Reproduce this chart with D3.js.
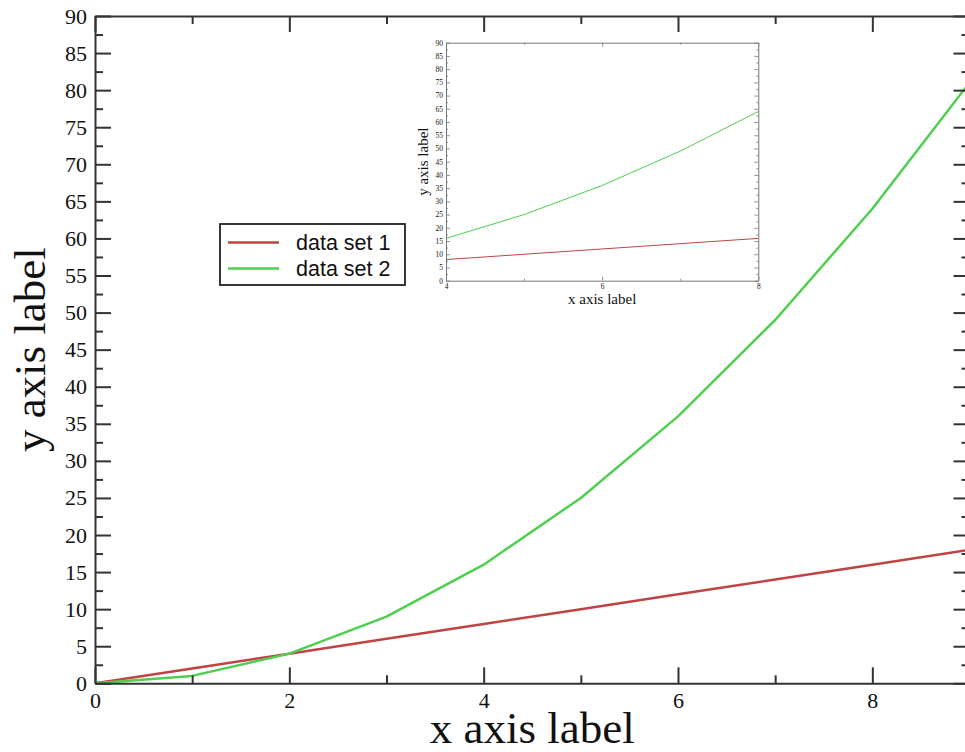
<!DOCTYPE html>
<html>
<head>
<meta charset="utf-8">
<script src="https://cdn.jsdelivr.net/npm/d3@7"></script>
<style>
  html, body { margin: 0; padding: 0; background: #fff; overflow: hidden; }
  svg { display: block; }
</style>
</head>
<body>
<svg id="chart" width="965" height="752"></svg>
<script>
// ---- data ----
const xValues = [0, 1, 2, 3, 4, 5, 6, 7, 8, 9];
const dataSet1 = [0, 2, 4, 6, 8, 10, 12, 14, 16, 18];
const dataSet2 = [0, 1, 4, 9, 16, 25, 36, 49, 64, 81];
const seriesNames = ["data set 1", "data set 2"];
const mainXTicks = [0, 2, 4, 6, 8];
const mainXMinor = [1, 3, 5, 7, 9];
const yTicks = [0, 5, 10, 15, 20, 25, 30, 35, 40, 45, 50, 55, 60, 65, 70, 75, 80, 85, 90];
const yMinor = [2.5, 7.5, 12.5, 17.5, 22.5, 27.5, 32.5, 37.5, 42.5, 47.5, 52.5, 57.5, 62.5, 67.5, 72.5, 77.5, 82.5, 87.5];
const insetXTicks = [4, 6, 8];
const insetXMinor = [5, 7];
const axisTitleX = "x axis label";
const axisTitleY = "y axis label";

const colors = ["#c04444", "#4fcf4f"];
const series = [dataSet1, dataSet2].map((vals, i) => ({
  name: seriesNames[i],
  color: colors[i],
  points: xValues.map((x, j) => ({ x: x, y: vals[j] }))
}));

const svg = d3.select("#chart");
const serif = "'Liberation Serif', 'Times New Roman', serif";
const sans = "'Liberation Sans', Arial, sans-serif";

function drawPanel(g, o) {
  const x = d3.scaleLinear().domain(o.xDomain).range([o.left, o.right]);
  const y = d3.scaleLinear().domain([0, 90]).range([o.bottom, o.top]);

  const clipId = "clip-" + o.id;
  svg.append("clipPath").attr("id", clipId).append("rect")
    .attr("x", o.left).attr("y", o.top)
    .attr("width", o.right - o.left).attr("height", o.bottom - o.top);

  // series lines
  const line = d3.line().x(d => x(d.x)).y(d => y(d.y));
  g.append("g").attr("clip-path", `url(#${clipId})`)
    .selectAll("path").data(series).join("path")
    .attr("d", d => line(d.points))
    .attr("fill", "none")
    .attr("stroke", d => d.color)
    .attr("stroke-width", o.lineWidth)
    .attr("stroke-linejoin", "round");

  function styleAxis(sel, showDomain) {
    sel.selectAll(".tick line").attr("stroke", o.axisColor).attr("stroke-width", o.tickWidth);
    if (showDomain) sel.select(".domain").attr("stroke", o.axisColor).attr("stroke-width", o.axisWidth);
    else sel.select(".domain").remove();
    sel.selectAll("text").attr("font-family", serif).attr("font-size", o.tickFont).attr("fill", "#111");
  }

  // bottom
  const bx = g.append("g").attr("transform", `translate(0,${o.bottom})`)
    .call(d3.axisBottom(x).tickValues(o.xTicks).tickFormat(d3.format("d"))
      .tickSizeInner(-o.major).tickSizeOuter(0).tickPadding(o.xPad));
  styleAxis(bx, true);
  const bxm = g.append("g").attr("transform", `translate(0,${o.bottom})`)
    .call(d3.axisBottom(x).tickValues(o.xMinor).tickFormat("").tickSizeInner(-o.minor).tickSizeOuter(0));
  styleAxis(bxm, false);
  // top
  const tx = g.append("g").attr("transform", `translate(0,${o.top})`)
    .call(d3.axisTop(x).tickValues(o.xTicks).tickFormat("").tickSizeInner(-o.major).tickSizeOuter(0));
  styleAxis(tx, true);
  const txm = g.append("g").attr("transform", `translate(0,${o.top})`)
    .call(d3.axisTop(x).tickValues(o.xMinor).tickFormat("").tickSizeInner(-o.minor).tickSizeOuter(0));
  styleAxis(txm, false);
  // left
  const ly = g.append("g").attr("transform", `translate(${o.left},0)`)
    .call(d3.axisLeft(y).tickValues(yTicks).tickFormat(d3.format("d"))
      .tickSizeInner(-o.major).tickSizeOuter(0).tickPadding(o.yPad));
  styleAxis(ly, true);
  const lym = g.append("g").attr("transform", `translate(${o.left},0)`)
    .call(d3.axisLeft(y).tickValues(yMinor).tickFormat("").tickSizeInner(-o.minor).tickSizeOuter(0));
  styleAxis(lym, false);
  // right
  const ry = g.append("g").attr("transform", `translate(${o.right},0)`)
    .call(d3.axisRight(y).tickValues(yTicks).tickFormat("").tickSizeInner(-o.major).tickSizeOuter(0));
  styleAxis(ry, true);
  const rym = g.append("g").attr("transform", `translate(${o.right},0)`)
    .call(d3.axisRight(y).tickValues(yMinor).tickFormat("").tickSizeInner(-o.minor).tickSizeOuter(0));
  styleAxis(rym, false);

  // axis titles
  g.append("text")
    .attr("x", (o.left + o.right) / 2).attr("y", o.xTitleY)
    .attr("text-anchor", "middle")
    .attr("font-family", serif).attr("font-size", o.titleFont).attr("fill", "#111")
    .text(axisTitleX);
  g.append("text")
    .attr("transform", `translate(${o.yTitleX},${(o.top + o.bottom) / 2}) rotate(-90)`)
    .attr("text-anchor", "middle")
    .attr("font-family", serif).attr("font-size", o.titleFont).attr("fill", "#111")
    .text(axisTitleY);
  return { x, y };
}

// main panel
const mainG = svg.append("g");
drawPanel(mainG, {
  id: "main", xDomain: [0, 9], xTicks: mainXTicks, xMinor: mainXMinor,
  left: 95, right: 969.5, top: 16, bottom: 683.3,
  major: 16, minor: 8, xPad: 9, yPad: 8,
  tickFont: 22, titleFont: 45, xTitleY: 743, yTitleX: 45,
  lineWidth: 2.5, axisColor: "#333", axisWidth: 2, tickWidth: 2
});

// legend
const lg = svg.append("g");
lg.append("rect").attr("x", 220).attr("y", 224).attr("width", 185).attr("height", 61)
  .attr("fill", "#fff").attr("stroke", "#222").attr("stroke-width", 1.8);
series.forEach((s, i) => {
  const yy = 242.5 + i * 26;
  lg.append("line").attr("x1", 228).attr("x2", 279).attr("y1", yy).attr("y2", yy)
    .attr("stroke", s.color).attr("stroke-width", 2.5);
  lg.append("text").attr("x", 296).attr("y", yy + 7.5)
    .attr("font-family", sans).attr("font-size", 21.5).attr("fill", "#111")
    .text(s.name);
});

// inset panel
const insetG = svg.append("g");
insetG.insert("rect", ":first-child").attr("x", 446).attr("y", 42.7).attr("width", 312).attr("height", 238).attr("fill", "#fff");
drawPanel(insetG, {
  id: "inset", xDomain: [4, 8], xTicks: insetXTicks, xMinor: insetXMinor,
  left: 446, right: 758.3, top: 42.7, bottom: 280.7,
  major: 4, minor: 2, xPad: 3, yPad: 3,
  tickFont: 7.5, titleFont: 15, xTitleY: 304, yTitleX: 428,
  lineWidth: 1, axisColor: "#777", axisWidth: 1, tickWidth: 0.8
});
</script>
</body>
</html>
